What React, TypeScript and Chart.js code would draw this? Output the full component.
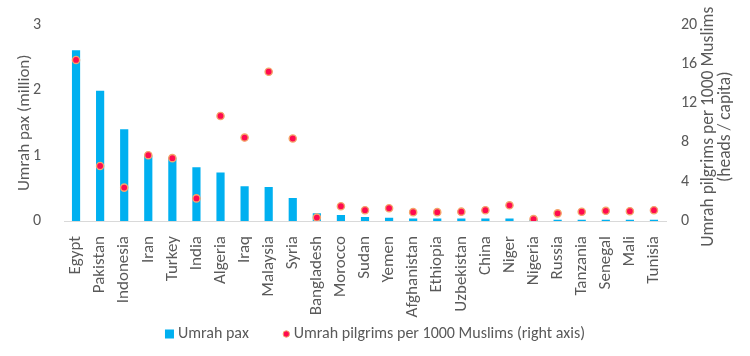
import React, { useEffect, useRef } from "react";
import { Chart, registerables } from "chart.js";

Chart.register(...registerables);

const countries = [
  "Egypt", "Pakistan", "Indonesia", "Iran", "Turkey", "India", "Algeria", "Iraq", "Malaysia", "Syria",
  "Bangladesh", "Morocco", "Sudan", "Yemen", "Afghanistan", "Ethiopia", "Uzbekistan", "China", "Niger",
  "Nigeria", "Russia", "Tanzania", "Senegal", "Mali", "Tunisia",
];

const umrahPax = [
  2.61, 1.99, 1.40, 1.00, 0.97, 0.82, 0.74, 0.53, 0.52, 0.35,
  0.12, 0.09, 0.06, 0.05, 0.04, 0.04, 0.04, 0.04, 0.04,
  0.02, 0.02, 0.02, 0.02, 0.02, 0.02,
];

const perThousand = [
  16.4, 5.6, 3.4, 6.7, 6.4, 2.3, 10.7, 8.5, 15.2, 8.4,
  0.35, 1.5, 1.1, 1.3, 0.9, 0.9, 0.95, 1.1, 1.6,
  0.2, 0.78, 0.94, 1.04, 1.0, 1.1,
];

const leftTicks = [0, 1, 2, 3];
const rightTicks = [0, 4, 8, 12, 16, 20];

const leftTitle = "Umrah pax (million)";
const rightTitle = ["Umrah pilgrims per 1000 Muslims", "(heads / capita)"];

const FONT = "Calibri, Carlito, Lato, 'Open Sans', sans-serif";
const GREY = "#595959";
const BAR_COLOR = "#00B0F0";
const DOT_FILL = "#FF0A50";
const DOT_BORDER = "#F4A46A";

const decorPlugin = {
  id: "decor",
  afterDraw(chart: any) {
    const ctx = chart.ctx as CanvasRenderingContext2D;
    const area = chart.chartArea;
    const midY = (area.top + area.bottom) / 2;
    ctx.save();
    ctx.fillStyle = GREY;
    ctx.textAlign = "center";
    ctx.textBaseline = "middle";
    // left title
    ctx.save();
    ctx.font = `17px ${FONT}`;
    ctx.translate(area.left - 39, midY);
    ctx.rotate(-Math.PI / 2);
    ctx.fillText(leftTitle, 0, 0);
    ctx.restore();
    // right title
    ctx.save();
    ctx.font = `17.5px ${FONT}`;
    ctx.translate(area.right + 43, midY + 4);
    ctx.rotate(-Math.PI / 2);
    ctx.fillText(rightTitle[0], 0, 0);
    ctx.fillText(rightTitle[1], 0, 16.5);
    ctx.restore();

    // legend
    const ds = chart.data.datasets;
    ctx.font = `16px ${FONT}`;
    ctx.textAlign = "left";
    const w0 = ctx.measureText(ds[0].label).width;
    const w1 = ctx.measureText(ds[1].label).width;
    const box = 9;
    const gapIcon = 4;
    const gapItems = 34;
    const total = box + gapIcon + w0 + gapItems + 7 + gapIcon + w1;
    let x = chart.width / 2 - total / 2;
    const y = 334;
    ctx.fillStyle = BAR_COLOR;
    ctx.fillRect(x, y - box / 2, box, box);
    x += box + gapIcon;
    ctx.fillStyle = GREY;
    ctx.fillText(ds[0].label, x, y);
    x += w0 + gapItems;
    ctx.beginPath();
    ctx.arc(x + 3.5, y, 3.2, 0, Math.PI * 2);
    ctx.fillStyle = DOT_FILL;
    ctx.fill();
    ctx.lineWidth = 1;
    ctx.strokeStyle = DOT_BORDER;
    ctx.stroke();
    x += 7 + gapIcon;
    ctx.fillStyle = GREY;
    ctx.fillText(ds[1].label, x, y);
    ctx.restore();
  },
};

export default function App() {
  const ref = useRef<HTMLCanvasElement | null>(null);
  useEffect(() => {
    if (!ref.current) return;
    const chart = new Chart(ref.current, {
      data: {
        labels: countries,
        datasets: [
          {
            type: "bar",
            label: "Umrah pax",
            data: umrahPax,
            backgroundColor: BAR_COLOR,
            yAxisID: "y",
            order: 2,
            categoryPercentage: 1,
            barPercentage: 0.34,
          } as any,
          {
            type: "line",
            label: "Umrah pilgrims per 1000 Muslims (right axis)",
            data: perThousand,
            showLine: false,
            yAxisID: "y1",
            order: 1,
            pointStyle: "circle",
            pointRadius: 3.6,
            pointBackgroundColor: DOT_FILL,
            pointBorderColor: DOT_BORDER,
            pointBorderWidth: 1.4,
            backgroundColor: DOT_FILL,
            borderColor: DOT_BORDER,
          } as any,
        ],
      },
      options: {
        animation: false,
        responsive: false,
        maintainAspectRatio: false,
        layout: { padding: { top: 17, left: 0, right: 0, bottom: 0 } },
        plugins: {
          tooltip: { enabled: false },
          legend: { display: false },
        },
        scales: {
          x: {
            grid: { display: false },
            border: { display: true, color: "#D9D9D9" },
            afterFit: (axis: any) => {
              axis.height = 135;
            },
            ticks: {
              minRotation: 90,
              maxRotation: 90,
              autoSkip: false,
              color: GREY,
              padding: 7,
              font: { family: FONT, size: 17 },
            },
          },
          y: {
            position: "left",
            min: 0,
            max: 3,
            afterBuildTicks: (axis: any) => {
              axis.ticks = leftTicks.map((v) => ({ value: v }));
            },
            afterFit: (axis: any) => {
              axis.width = 64;
            },
            grid: { display: false },
            border: { display: false },
            ticks: { color: GREY, padding: 15, font: { family: FONT, size: 16 } },
          },
          y1: {
            position: "right",
            min: 0,
            max: 20,
            afterBuildTicks: (axis: any) => {
              axis.ticks = rightTicks.map((v) => ({ value: v }));
            },
            afterFit: (axis: any) => {
              axis.width = 84;
            },
            grid: { display: false },
            border: { display: false },
            ticks: { color: GREY, padding: 7, font: { family: FONT, size: 16 } },
          },
        },
      },
      plugins: [decorPlugin],
    });
    return () => chart.destroy();
  }, []);
  return (
    <div style={{ position: "fixed", left: 0, top: 0, width: 750, height: 356, background: "#fff" }}>
      <canvas ref={ref} width={750} height={356} style={{ width: 750, height: 356 }} />
    </div>
  );
}
